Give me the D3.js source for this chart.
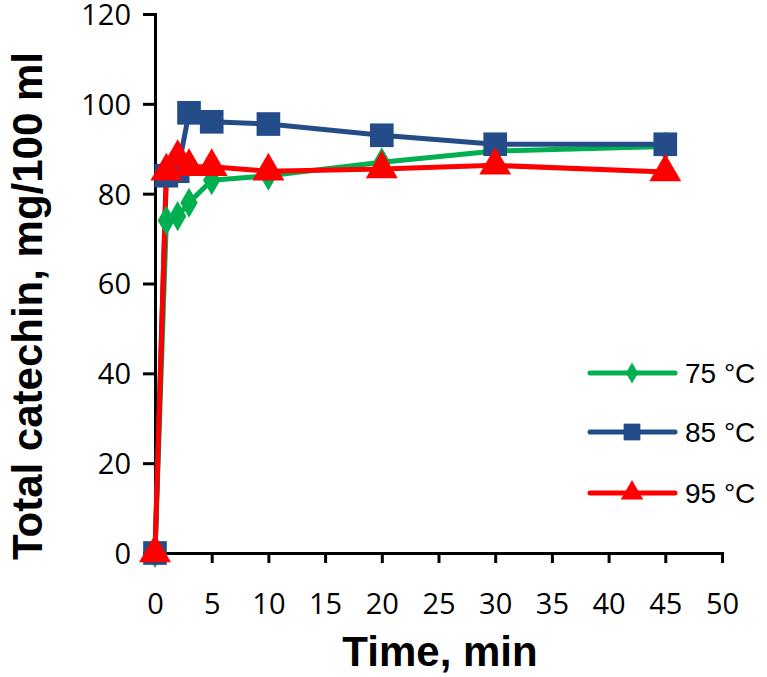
<!DOCTYPE html>
<html><head><meta charset="utf-8">
<script src="https://cdn.jsdelivr.net/npm/d3@7/dist/d3.min.js"></script>
<style>body{margin:0;background:#fff}</style>
</head><body>
<svg id="c" width="767" height="677"></svg>
<script>
const series75 = [[0,0],[1,74],[2,75],[3,78],[5,83],[10,84],[20,87],[30,89.5],[45,90.5]];
const series85 = [[0,0],[1,84],[2,85],[3,98],[5,96],[10,95.5],[20,93],[30,91],[45,91]];
const series95 = [[0,0],[1,85],[2,88],[3,86],[5,86],[10,85],[20,85.5],[30,86.3],[45,84.8]];
const seriesNames = ["75 °C","85 °C","95 °C"];
const xTicks = [0,5,10,15,20,25,30,35,40,45,50];
const yTicks = [0,20,40,60,80,100,120];

const svg = d3.select("#c");
const x = d3.scaleLinear().domain([0,50]).range([155,722]);
const y = d3.scaleLinear().domain([0,120]).range([553,14]);

const colors = ["#00B050","#244C88","#FF0000"];
const shapes = [d3.symbolDiamond, d3.symbolSquare, d3.symbolTriangle];
const sizes = [260, 560, 440];
const data = [series75, series85, series95];

// axes
const yAxis = svg.append("g").attr("transform","translate(155,0)")
  .call(d3.axisLeft(y).tickValues(yTicks).tickSize(12).tickPadding(12).tickFormat(d3.format("d")));
const xAxis = svg.append("g").attr("transform","translate(0,553)")
  .call(d3.axisBottom(x).tickValues(xTicks).tickSize(10).tickPadding(30).tickFormat(d3.format("d")));
[yAxis,xAxis].forEach(a=>{
  a.select(".domain").attr("stroke","#000").attr("stroke-width",3);
  a.selectAll(".tick line").attr("stroke","#000").attr("stroke-width",3);
  a.selectAll(".tick text").attr("fill","#000").style("font-family","'Open Sans', 'Liberation Sans', sans-serif").style("font-size","29px");
});
yAxis.selectAll(".tick text").attr("dy","0.36em");

// lines
const line = d3.line().x(d=>x(d[0])).y(d=>y(d[1]));
data.forEach((s,i)=>{
  svg.append("path").datum(s).attr("d",line).attr("fill","none")
    .attr("stroke",colors[i]).attr("stroke-width",5).attr("stroke-linejoin","round");
});
data.forEach((s,i)=>{
  svg.selectAll(null).data(s).enter().append("path")
    .attr("d", d3.symbol().type(shapes[i]).size(sizes[i]))
    .attr("transform", d=>`translate(${x(d[0])},${y(d[1])})`)
    .attr("fill", colors[i]);
});

// legend
const legY = [373, 432, 493];
seriesNames.forEach((n,i)=>{
  const g = svg.append("g");
  g.append("line").attr("x1",590).attr("x2",675).attr("y1",legY[i]).attr("y2",legY[i])
    .attr("stroke",colors[i]).attr("stroke-width",5).attr("stroke-linecap","round");
  g.append("path").attr("d", d3.symbol().type(shapes[i]).size(sizes[i]*0.5))
    .attr("transform",`translate(632,${legY[i]})`).attr("fill",colors[i]);
  g.append("text").attr("x",685).attr("y",legY[i]+10).text(n)
    .style("font-family","'Liberation Sans', Arial, sans-serif").style("font-size","28px").attr("fill","#000");
});

// axis titles
svg.append("text").attr("x",440).attr("y",666).attr("text-anchor","middle")
  .style("font-family","'Liberation Sans', Arial, sans-serif").style("font-weight","bold").style("font-size","42px")
  .text("Time, min");
svg.append("text").attr("transform","translate(42,306) rotate(-90)").attr("text-anchor","middle")
  .style("font-family","'Liberation Sans', Arial, sans-serif").style("font-weight","bold").style("font-size","42px")
  .text("Total catechin, mg/100 ml");
</script>
</body></html>
